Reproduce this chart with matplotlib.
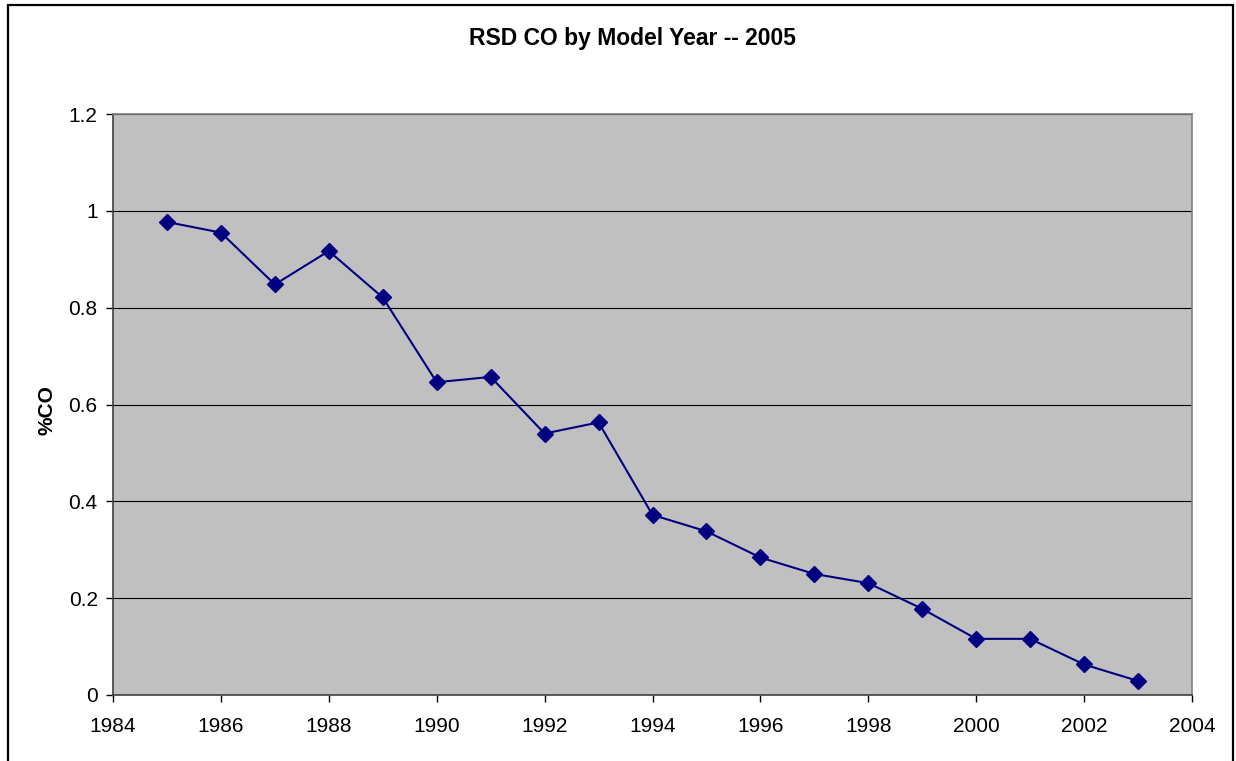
import matplotlib
matplotlib.use("Agg")
import matplotlib.pyplot as plt
from matplotlib.patches import Rectangle

years = [1985, 1986, 1987, 1988, 1989, 1990, 1991, 1992, 1993, 1994,
         1995, 1996, 1997, 1998, 1999, 2000, 2001, 2002, 2003]
co_pct = [0.977, 0.955, 0.848, 0.917, 0.821, 0.646, 0.657, 0.540, 0.563, 0.372,
          0.338, 0.284, 0.250, 0.231, 0.178, 0.116, 0.116, 0.063, 0.029]
x_ticks = [1984, 1986, 1988, 1990, 1992, 1994, 1996, 1998, 2000, 2002, 2004]
y_ticks = [0, 0.2, 0.4, 0.6, 0.8, 1.0, 1.2]
y_tick_labels = ["0", "0.2", "0.4", "0.6", "0.8", "1", "1.2"]

plt.rcParams['font.family'] = ['Liberation Sans', 'DejaVu Sans']

W, H = 1236, 761
fig = plt.figure(figsize=(W / 100, H / 100), dpi=100)
fig.patch.set_facecolor('white')

# outer chart border
fig.patches.append(Rectangle((8 / W, -0.05), (1233 - 8) / W, 1.05 - 5 / H,
                             transform=fig.transFigure, fill=False,
                             edgecolor='black', linewidth=1.6, clip_on=False))

ax = fig.add_axes([113 / W, (H - 695) / H, (1192 - 113) / W, (695 - 114) / H])
ax.set_facecolor('#C0C0C0')
ax.plot(years, co_pct, color='#000080', linewidth=1.5, marker='D',
        markersize=8, markerfacecolor='#000080', markeredgecolor='#000080')

ax.set_xlim(1984, 2004)
ax.set_ylim(0, 1.2)
ax.set_xticks(x_ticks)
ax.set_yticks(y_ticks)
ax.set_yticklabels(y_tick_labels)
ax.tick_params(axis='both', labelsize=15, colors='black', length=5,
               width=1, direction='out')
ax.tick_params(axis='x', pad=11)
ax.tick_params(axis='y', pad=6)
ax.yaxis.grid(True, color='black', linewidth=0.8)
ax.set_axisbelow(True)

for s in ['left', 'bottom']:
    ax.spines[s].set_color('#404040')
    ax.spines[s].set_linewidth(1.2)
for s in ['top', 'right']:
    ax.spines[s].set_color('#808080')
    ax.spines[s].set_linewidth(1.2)

ax.set_ylabel('%CO', fontsize=15, fontweight='bold', va='center')
ax.yaxis.set_label_coords((47 - 113) / (1192 - 113), 0.49)
fig.text(632 / W, 1 - 38 / H, 'RSD CO by Model Year -- 2005',
         ha='center', va='center', fontsize=16.5, fontweight='bold')

fig.savefig('out.png', dpi=100)
